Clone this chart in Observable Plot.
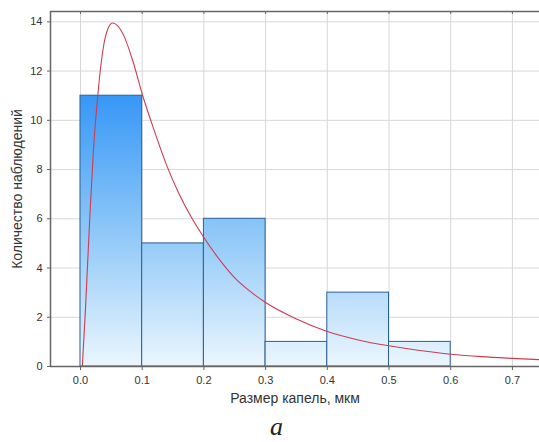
<!DOCTYPE html>
<html>
<head>
<meta charset="utf-8">
<script src="https://cdn.jsdelivr.net/npm/d3@7"></script>
<script src="https://cdn.jsdelivr.net/npm/@observablehq/plot@0.6"></script>
<style>
  body { margin: 0; background: #fff; }
  #chart { width: 539px; }
  #cap { font: italic 26px "Liberation Serif", serif; color: #222; padding-left: 270px; line-height: 26px; margin-top: 2px; }
</style>
</head>
<body>
<div id="chart"></div>
<div id="cap">а</div>
<script>
// Histogram bins (droplet size, µm) and counts
const binStart = [0.0, 0.1, 0.2, 0.3, 0.4, 0.5];
const binEnd   = [0.1, 0.2, 0.3, 0.4, 0.5, 0.6];
const counts   = [11, 5, 6, 1, 3, 1];

// Fitted curve
const curveX = [0.003, 0.008, 0.015, 0.021, 0.028, 0.038, 0.045, 0.052, 0.06, 0.07, 0.085, 0.1, 0.12, 0.14, 0.16, 0.18, 0.2, 0.225, 0.25, 0.275, 0.3, 0.35, 0.4, 0.45, 0.5, 0.55, 0.6, 0.65, 0.7, 0.75];
const curveY = [0.0, 2.3, 6.0, 8.8, 11.0, 13.1, 13.75, 13.95, 13.85, 13.45, 12.4, 11.07, 9.55, 8.15, 7.0, 6.05, 5.24, 4.35, 3.6, 3.05, 2.6, 1.93, 1.42, 1.08, 0.84, 0.65, 0.5, 0.4, 0.33, 0.27];

const xTicks = [0.0, 0.1, 0.2, 0.3, 0.4, 0.5, 0.6, 0.7];
const yTicks = [0, 2, 4, 6, 8, 10, 12, 14];

const bars = binStart.map((s, i) => ({x1: s, x2: binEnd[i], y: counts[i]}));
const curve = curveX.map((x, i) => ({x, y: curveY[i]}));

const axisColor = "#666";
const font = "Liberation Sans, Arial, sans-serif";
const yTop = 14.42;

const plot = Plot.plot({
  width: 539,
  height: 412,
  marginLeft: 50,
  marginRight: 0,
  marginTop: 11,
  marginBottom: 46,
  style: {fontFamily: font, fontSize: "11px", color: "#333", background: "#fff"},
  x: {domain: [-0.0486, 0.7439]},
  y: {domain: [0, yTop]},
  marks: [
    Plot.gridX(xTicks, {stroke: "#d8d8d8", strokeOpacity: 1}),
    Plot.gridY(yTicks, {stroke: "#d8d8d8", strokeOpacity: 1}),
    Plot.rectY(bars, {x1: "x1", x2: "x2", y: "y", fill: "url(#barGrad)", stroke: "#2b5f92", strokeWidth: 1}),
    Plot.line(curve, {x: "x", y: "y", stroke: "#cc3d50", strokeWidth: 1.1, curve: "monotone-x", clip: true}),
    Plot.axisX(xTicks, {tickFormat: d3.format(".1f"), tickSize: 4, tickPadding: 6, stroke: axisColor, fontSize: 11,
      label: "Размер капель, мкм", labelAnchor: "center", labelArrow: "none", labelOffset: 36}),
    Plot.ruleX(xTicks, {y1: yTop, y2: yTop - 0.12, stroke: axisColor}),
    Plot.axisY(yTicks, {tickSize: 3, tickPadding: 5, stroke: axisColor, fontSize: 11,
      label: "Количество наблюдений", labelAnchor: "center", labelArrow: "none", labelOffset: 38}),
    Plot.ruleX([-0.0486], {stroke: axisColor, strokeWidth: 1.5}),
    Plot.ruleY([0], {stroke: axisColor, strokeWidth: 1.5}),
    Plot.ruleY([yTop], {stroke: axisColor, strokeWidth: 1.5})
  ]
});

// gradient shared across the plot area
const ys = plot.scale("y");
const defs = d3.select(plot).insert("defs", ":first-child");
const g = defs.append("linearGradient").attr("id", "barGrad")
  .attr("gradientUnits", "userSpaceOnUse")
  .attr("x1", 0).attr("x2", 0)
  .attr("y1", ys.apply(11)).attr("y2", ys.apply(0));
g.append("stop").attr("offset", "0%").attr("stop-color", "#3797f6");
g.append("stop").attr("offset", "50%").attr("stop-color", "#8dc7f8");
g.append("stop").attr("offset", "100%").attr("stop-color", "#ebf6fe");

d3.select(plot).selectAll("[aria-label='x-axis label'] text, [aria-label='y-axis label'] text")
  .style("font-size", "14px");

document.getElementById("chart").appendChild(plot);
</script>
</body>
</html>
